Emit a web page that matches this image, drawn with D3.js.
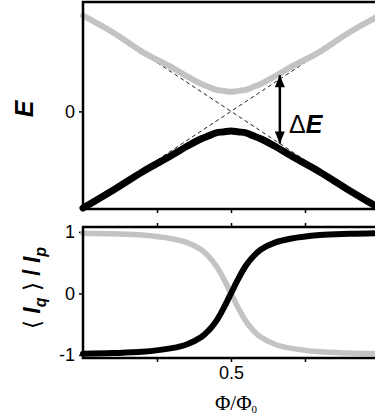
<!DOCTYPE html>
<html>
<head>
<meta charset="utf-8">
<script src="https://cdn.jsdelivr.net/npm/d3@7"></script>
<style>
  body { margin: 0; background: #fff; }
  svg { display: block; font-family: "Liberation Sans", Arial, sans-serif; }
  .tick line { stroke: #000; stroke-width: 1.5; }
</style>
</head>
<body>
<svg id="chart" width="375" height="420"></svg>
<script>
// flux bias, in units of the flux quantum
const phi = [0, 0.1, 0.2, 0.3, 0.35, 0.4, 0.425, 0.45, 0.475, 0.5, 0.525, 0.55, 0.575, 0.6, 0.65, 0.7, 0.8, 0.9, 1.0]

// energy levels (top panel)
const eUpper = [0.98, 0.81, 0.61, 0.45, 0.36, 0.28, 0.25, 0.22, 0.21, 0.20, 0.21, 0.22, 0.25, 0.28, 0.36, 0.45, 0.61, 0.81, 0.98]
const eLower = [-0.99, -0.81, -0.62, -0.45, -0.36, -0.28, -0.25, -0.22, -0.21, -0.20, -0.21, -0.22, -0.25, -0.28, -0.36, -0.45, -0.62, -0.81, -0.99]

// uncoupled (dashed) levels
const dashPhi = [0.25, 0.75]
const dashA = [0.5, -0.5]
const dashB = [-0.5, 0.5]

// gap arrow
const arrowPhi = 0.665
const arrowFrom = -0.33
const arrowTo = 0.37

// persistent current expectation (bottom panel)
const iGround = [-0.98, -0.97, -0.95, -0.89, -0.83, -0.71, -0.60, -0.45, -0.24, 0, 0.24, 0.45, 0.60, 0.71, 0.83, 0.89, 0.95, 0.97, 0.98]
const iExcited = [0.98, 0.97, 0.95, 0.89, 0.83, 0.71, 0.60, 0.45, 0.24, 0, -0.24, -0.45, -0.60, -0.71, -0.83, -0.89, -0.95, -0.97, -0.98]

const xTicks = [0.25, 0.5, 0.75]
const eTicks = [0]
const iTicks = [-1, 0, 1]

const svg = d3.select("#chart")
const fontSize = 18

const x = d3.scaleLinear().domain([0, 1]).range([83, 379])
const yE = d3.scaleLinear().domain([-1.0, 1.12]).range([209, 2])
const yI = d3.scaleLinear().domain([-1.05, 1.08]).range([358, 227])

// axes (ticks only, the frame is drawn separately)
function styleAxis(g) {
    g.select(".domain").remove()
    g.selectAll("text")
        .style("font-size", fontSize + "px")
        .style("font-family", "'Liberation Sans', Arial, sans-serif")
        .attr("fill", "#000")
}

svg.append("g")
    .attr("transform", "translate(83,0)")
    .call(d3.axisLeft(yE).tickValues(eTicks).tickSize(4).tickPadding(4).tickFormat(d => String(d)))
    .call(styleAxis)

svg.append("g")
    .attr("transform", "translate(0,209)")
    .call(d3.axisBottom(x).tickValues(xTicks).tickSize(4).tickFormat(""))
    .call(styleAxis)

svg.append("g")
    .attr("transform", "translate(83,0)")
    .call(d3.axisLeft(yI).tickValues(iTicks).tickSize(4).tickPadding(4).tickFormat(d => String(d)))
    .call(styleAxis)

svg.append("g")
    .attr("transform", "translate(0,227)")
    .call(d3.axisTop(x).tickValues(xTicks).tickSize(4).tickFormat(""))
    .call(styleAxis)

svg.append("g")
    .attr("transform", "translate(0,358)")
    .call(d3.axisBottom(x).tickValues(xTicks).tickSize(4).tickPadding(4)
        .tickFormat(d => d == 0.5 ? "0.5" : ""))
    .call(styleAxis)

// top panel: dashed crossing levels
const dashLine = d3.line().x(d => x(d[0])).y(d => yE(d[1]))
;[dashA, dashB].forEach(s => {
    svg.append("path")
        .attr("d", dashLine(d3.zip(dashPhi, s)))
        .attr("fill", "none")
        .attr("stroke", "#222")
        .attr("stroke-width", 1)
        .attr("stroke-dasharray", "4,3")
})

const lineE = d3.line().x(d => x(d[0])).y(d => yE(d[1])).curve(d3.curveCatmullRom)

svg.append("path")
    .attr("d", lineE(d3.zip(phi, eUpper)))
    .attr("fill", "none")
    .attr("stroke", "#c3c3c3")
    .attr("stroke-width", 6)
    .attr("stroke-linecap", "round")

svg.append("path")
    .attr("d", lineE(d3.zip(phi, eLower)))
    .attr("fill", "none")
    .attr("stroke", "#000")
    .attr("stroke-width", 7)
    .attr("stroke-linecap", "round")

// double arrow for the gap
const defs = svg.append("defs")
defs.append("marker")
    .attr("id", "head")
    .attr("viewBox", "0 0 12 10")
    .attr("refX", 12).attr("refY", 5)
    .attr("markerWidth", 13).attr("markerHeight", 10)
    .attr("markerUnits", "userSpaceOnUse")
    .attr("orient", "auto-start-reverse")
    .append("path")
    .attr("d", "M0,0L12,5L0,10Z")
    .attr("fill", "#000")

svg.append("line")
    .attr("x1", x(arrowPhi)).attr("x2", x(arrowPhi))
    .attr("y1", yE(arrowFrom)).attr("y2", yE(arrowTo))
    .attr("stroke", "#000")
    .attr("stroke-width", 2.5)
    .attr("marker-start", "url(#head)")
    .attr("marker-end", "url(#head)")

const dE = svg.append("text")
    .attr("x", 289).attr("y", 133)
    .style("font-size", "25px")
dE.append("tspan").text("Δ")
dE.append("tspan").text("E").style("font-weight", "bold").style("font-style", "italic")

// bottom panel curves
const lineI = d3.line().x(d => x(d[0])).y(d => yI(d[1])).curve(d3.curveCatmullRom)

svg.append("path")
    .attr("d", lineI(d3.zip(phi, iExcited)))
    .attr("fill", "none")
    .attr("stroke", "#c3c3c3")
    .attr("stroke-width", 5.5)
    .attr("stroke-linecap", "round")

svg.append("path")
    .attr("d", lineI(d3.zip(phi, iGround)))
    .attr("fill", "none")
    .attr("stroke", "#000")
    .attr("stroke-width", 6)
    .attr("stroke-linecap", "round")

// frames
svg.append("rect")
    .attr("x", x(0)).attr("y", yE.range()[1])
    .attr("width", x(1) - x(0)).attr("height", yE.range()[0] - yE.range()[1])
    .attr("fill", "none").attr("stroke", "#000").attr("stroke-width", 2.5)

svg.append("rect")
    .attr("x", x(0)).attr("y", yI.range()[1])
    .attr("width", x(1) - x(0)).attr("height", yI.range()[0] - yI.range()[1])
    .attr("fill", "none").attr("stroke", "#000").attr("stroke-width", 2.5)

// axis titles
svg.append("text")
    .attr("transform", "translate(33,109) rotate(-90)")
    .attr("text-anchor", "middle")
    .style("font-size", "25px")
    .style("font-weight", "bold")
    .style("font-style", "italic")
    .text("E")

const iLabel = svg.append("text")
    .attr("transform", "translate(40,288) rotate(-90)")
    .attr("text-anchor", "middle")
    .style("font-size", "23px")
iLabel.append("tspan").text("⟨ ")
iLabel.append("tspan").text("I").style("font-weight", "bold").style("font-style", "italic")
iLabel.append("tspan").text("q").attr("dy", 6).style("font-size", "16px").style("font-weight", "bold").style("font-style", "italic")
iLabel.append("tspan").text(" ⟩ ").attr("dy", -6)
iLabel.append("tspan").text("/ ").style("font-weight", "bold")
iLabel.append("tspan").text("I").style("font-weight", "bold").style("font-style", "italic")
iLabel.append("tspan").text("p").attr("dy", 6).style("font-size", "16px").style("font-weight", "bold").style("font-style", "italic")

const xLabel = svg.append("text")
    .attr("x", 236).attr("y", 410)
    .attr("text-anchor", "middle")
    .style("font-family", "'Liberation Serif', serif")
    .style("font-size", "21px")
xLabel.append("tspan").text("Φ/Φ")
xLabel.append("tspan").text("0").attr("dy", 3).style("font-size", "11px")
</script>
</body>
</html>
